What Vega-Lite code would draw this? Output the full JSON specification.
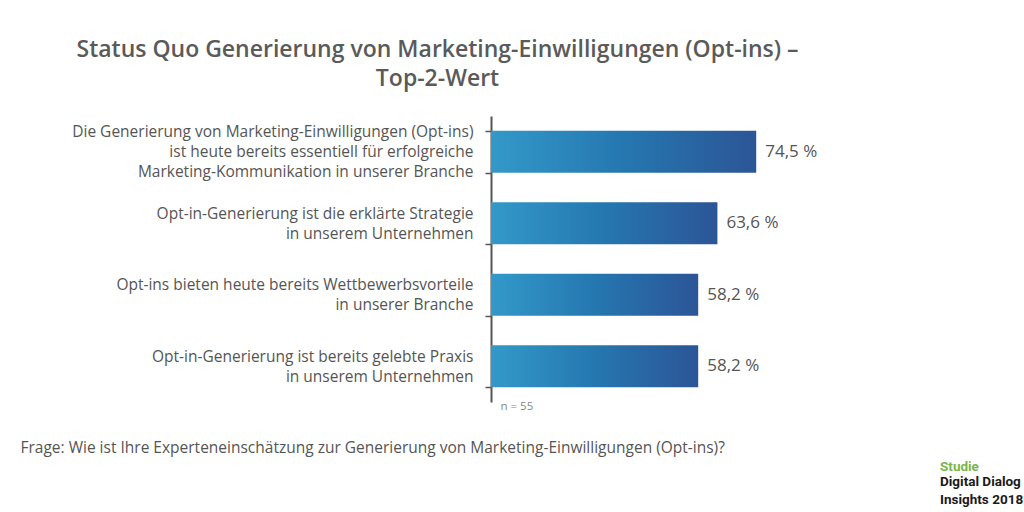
{
  "$schema": "https://vega.github.io/schema/vega-lite/v6.json",
  "width": 356,
  "height": 286,
  "autosize": {"type": "none"},
  "padding": {"left": 491, "top": 116, "right": 177, "bottom": 110},
  "background": "white",
  "data": {
    "values": [
      {"item": "Die Generierung von Marketing-Einwilligungen (Opt-ins)|ist heute bereits essentiell für erfolgreiche|Marketing-Kommunikation in unserer Branche", "value": 74.5, "label": "74,5 %"},
      {"item": "Opt-in-Generierung ist die erklärte Strategie|in unserem Unternehmen", "value": 63.6, "label": "63,6 %"},
      {"item": "Opt-ins bieten heute bereits Wettbewerbsvorteile|in unserer Branche", "value": 58.2, "label": "58,2 %"},
      {"item": "Opt-in-Generierung ist bereits gelebte Praxis|in unserem Unternehmen", "value": 58.2, "label": "58,2 % "}
    ]
  },
  "title": {
    "text": "Studie",
    "subtitle": ["Digital Dialog", "Insights 2018"],
    "orient": "bottom",
    "anchor": "end",
    "align": "left",
    "baseline": "top",
    "dx": 93,
    "offset": 4,
    "font": "Roboto",
    "fontSize": 13.5,
    "fontWeight": "bold",
    "color": "#7ab648",
    "subtitleFont": "Roboto",
    "subtitleFontSize": 13.5,
    "subtitleFontWeight": "bold",
    "subtitleColor": "#1a1a1a",
    "subtitleLineHeight": 17.5,
    "subtitlePadding": 2
  },
  "encoding": {
    "y": {
      "field": "item",
      "type": "nominal",
      "sort": null,
      "scale": {"paddingInner": 0.41, "paddingOuter": 0.205},
      "axis": {
        "title": ["Status Quo Generierung von Marketing-Einwilligungen (Opt-ins) –", "Top-2-Wert"],
        "titleAngle": 0,
        "titleX": -54,
        "titleY": -60,
        "titleAlign": "center",
        "titleBaseline": "alphabetic",
        "titleFont": "Open Sans",
        "titleFontSize": 23,
        "titleFontWeight": 600,
        "titleColor": "#5a5a5a",
        "titleLineHeight": 29,
        "labelExpr": "split(datum.label, '|')",
        "labelFont": "Open Sans",
        "labelFontSize": 15.5,
        "labelColor": "#555555",
        "labelLineHeight": 20,
        "labelPadding": 12,
        "labelLimit": 0,
        "labelOffset": {"condition": {"test": "indexof(datum.label, 'Die Generierung') >= 0", "value": -20}, "value": -10},
        "tickBand": "extent",
        "tickSize": 6,
        "tickColor": "#555555",
        "tickWidth": 1.5,
        "domainColor": "#555555",
        "domainWidth": 2,
        "grid": false
      }
    },
    "x": {
      "field": "value",
      "type": "quantitative",
      "scale": {"domain": [0, 100]},
      "axis": {
        "values": [0],
        "labelExpr": "'n = 55'",
        "labelAlign": "left",
        "labelOffset": 9,
        "labelBaseline": "middle",
        "labelPadding": 4,
        "labelFont": "Open Sans",
        "labelFontSize": 11.5,
        "labelColor": "#888888",
        "domain": false,
        "ticks": false,
        "tickSize": 0,
        "grid": false,
        "title": "Frage: Wie ist Ihre Experteneinschätzung zur Generierung von Marketing-Einwilligungen (Opt-ins)?",
        "titleX": -471,
        "titleY": 45,
        "titleAlign": "left",
        "titleAnchor": "start",
        "titleBaseline": "middle",
        "titleFont": "Open Sans",
        "titleFontSize": 15.5,
        "titleFontWeight": "normal",
        "titleColor": "#555555"
      }
    }
  },
  "layer": [
    {
      "mark": {
        "type": "bar",
        "color": {
          "gradient": "linear",
          "x1": 0, "x2": 1, "y1": 0, "y2": 0,
          "stops": [
            {"offset": 0, "color": "#3399c9"},
            {"offset": 0.5, "color": "#2577b0"},
            {"offset": 1, "color": "#2c5596"}
          ]
        }
      }
    },
    {
      "mark": {"type": "text", "align": "left", "baseline": "middle", "dx": 9, "font": "Open Sans", "fontSize": 17, "color": "#555555"},
      "encoding": {"text": {"field": "label"}}
    }
  ],
  "config": {"view": {"stroke": null}}
}
